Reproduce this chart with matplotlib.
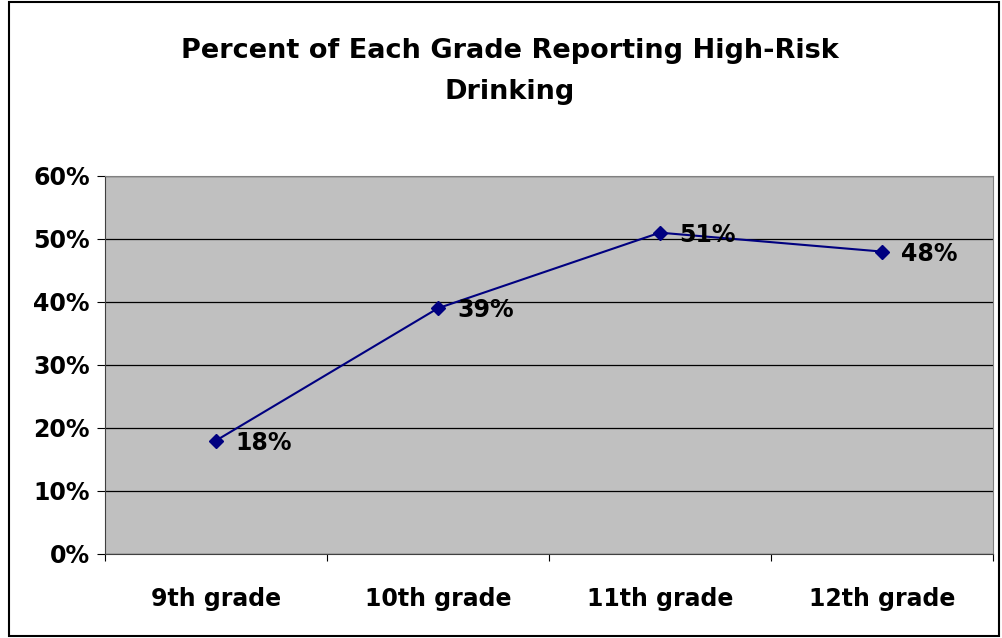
import matplotlib.pyplot as plt
from matplotlib.patches import Rectangle

grades = ["9th grade", "10th grade", "11th grade", "12th grade"]
percents = [18, 39, 51, 48]
y_ticks = [0, 10, 20, 30, 40, 50, 60]

plt.rcParams["font.family"] = ["DejaVu Sans"]
plt.rcParams["font.weight"] = "bold"

fig = plt.figure(figsize=(10.02, 6.38), dpi=100)
ax = fig.add_axes([0.1048, 0.1317, 0.886, 0.5925])

# black frame round the whole chart
fig.patches.append(Rectangle((9 / 1002, 2 / 638), 990 / 1002, 634 / 638,
                             transform=fig.transFigure, fill=False,
                             edgecolor="black", linewidth=1.5))

ax.set_facecolor("#c0c0c0")
x = list(range(len(grades)))
ax.plot(x, percents, color="#000080", marker="D", markersize=7, linewidth=1.5)

for xi, p in zip(x, percents):
    ax.annotate(f"{p}%", (xi, p), xytext=(14, -1.5), textcoords="offset points",
                fontsize=17, fontweight="bold", va="center", ha="left")

ax.set_xlim(-0.5, 3.5)
ax.set_ylim(0, 60)
ax.set_yticks(y_ticks)
ax.set_yticklabels([f"{t}%" for t in y_ticks])
ax.yaxis.grid(True, color="black", linewidth=0.9)
ax.set_axisbelow(True)

ax.set_xticks(x)
ax.set_xticklabels(grades)
ax.set_xticks([-0.5, 0.5, 1.5, 2.5, 3.5], minor=True)
ax.tick_params(axis="x", which="major", length=0, pad=24, labelsize=17)
ax.tick_params(axis="x", which="minor", length=5, width=0.8)
ax.tick_params(axis="y", length=6, width=0.8, pad=5, labelsize=17)

for side in ["left", "bottom"]:
    ax.spines[side].set_color("#404040")
for side in ["top", "right"]:
    ax.spines[side].set_color("#808080")

fig.text(0.509, 0.888, "Percent of Each Grade Reporting High-Risk\nDrinking",
         ha="center", va="center", fontsize=19.5, fontweight="bold",
         linespacing=1.75)

plt.savefig("out.png", dpi=100)
